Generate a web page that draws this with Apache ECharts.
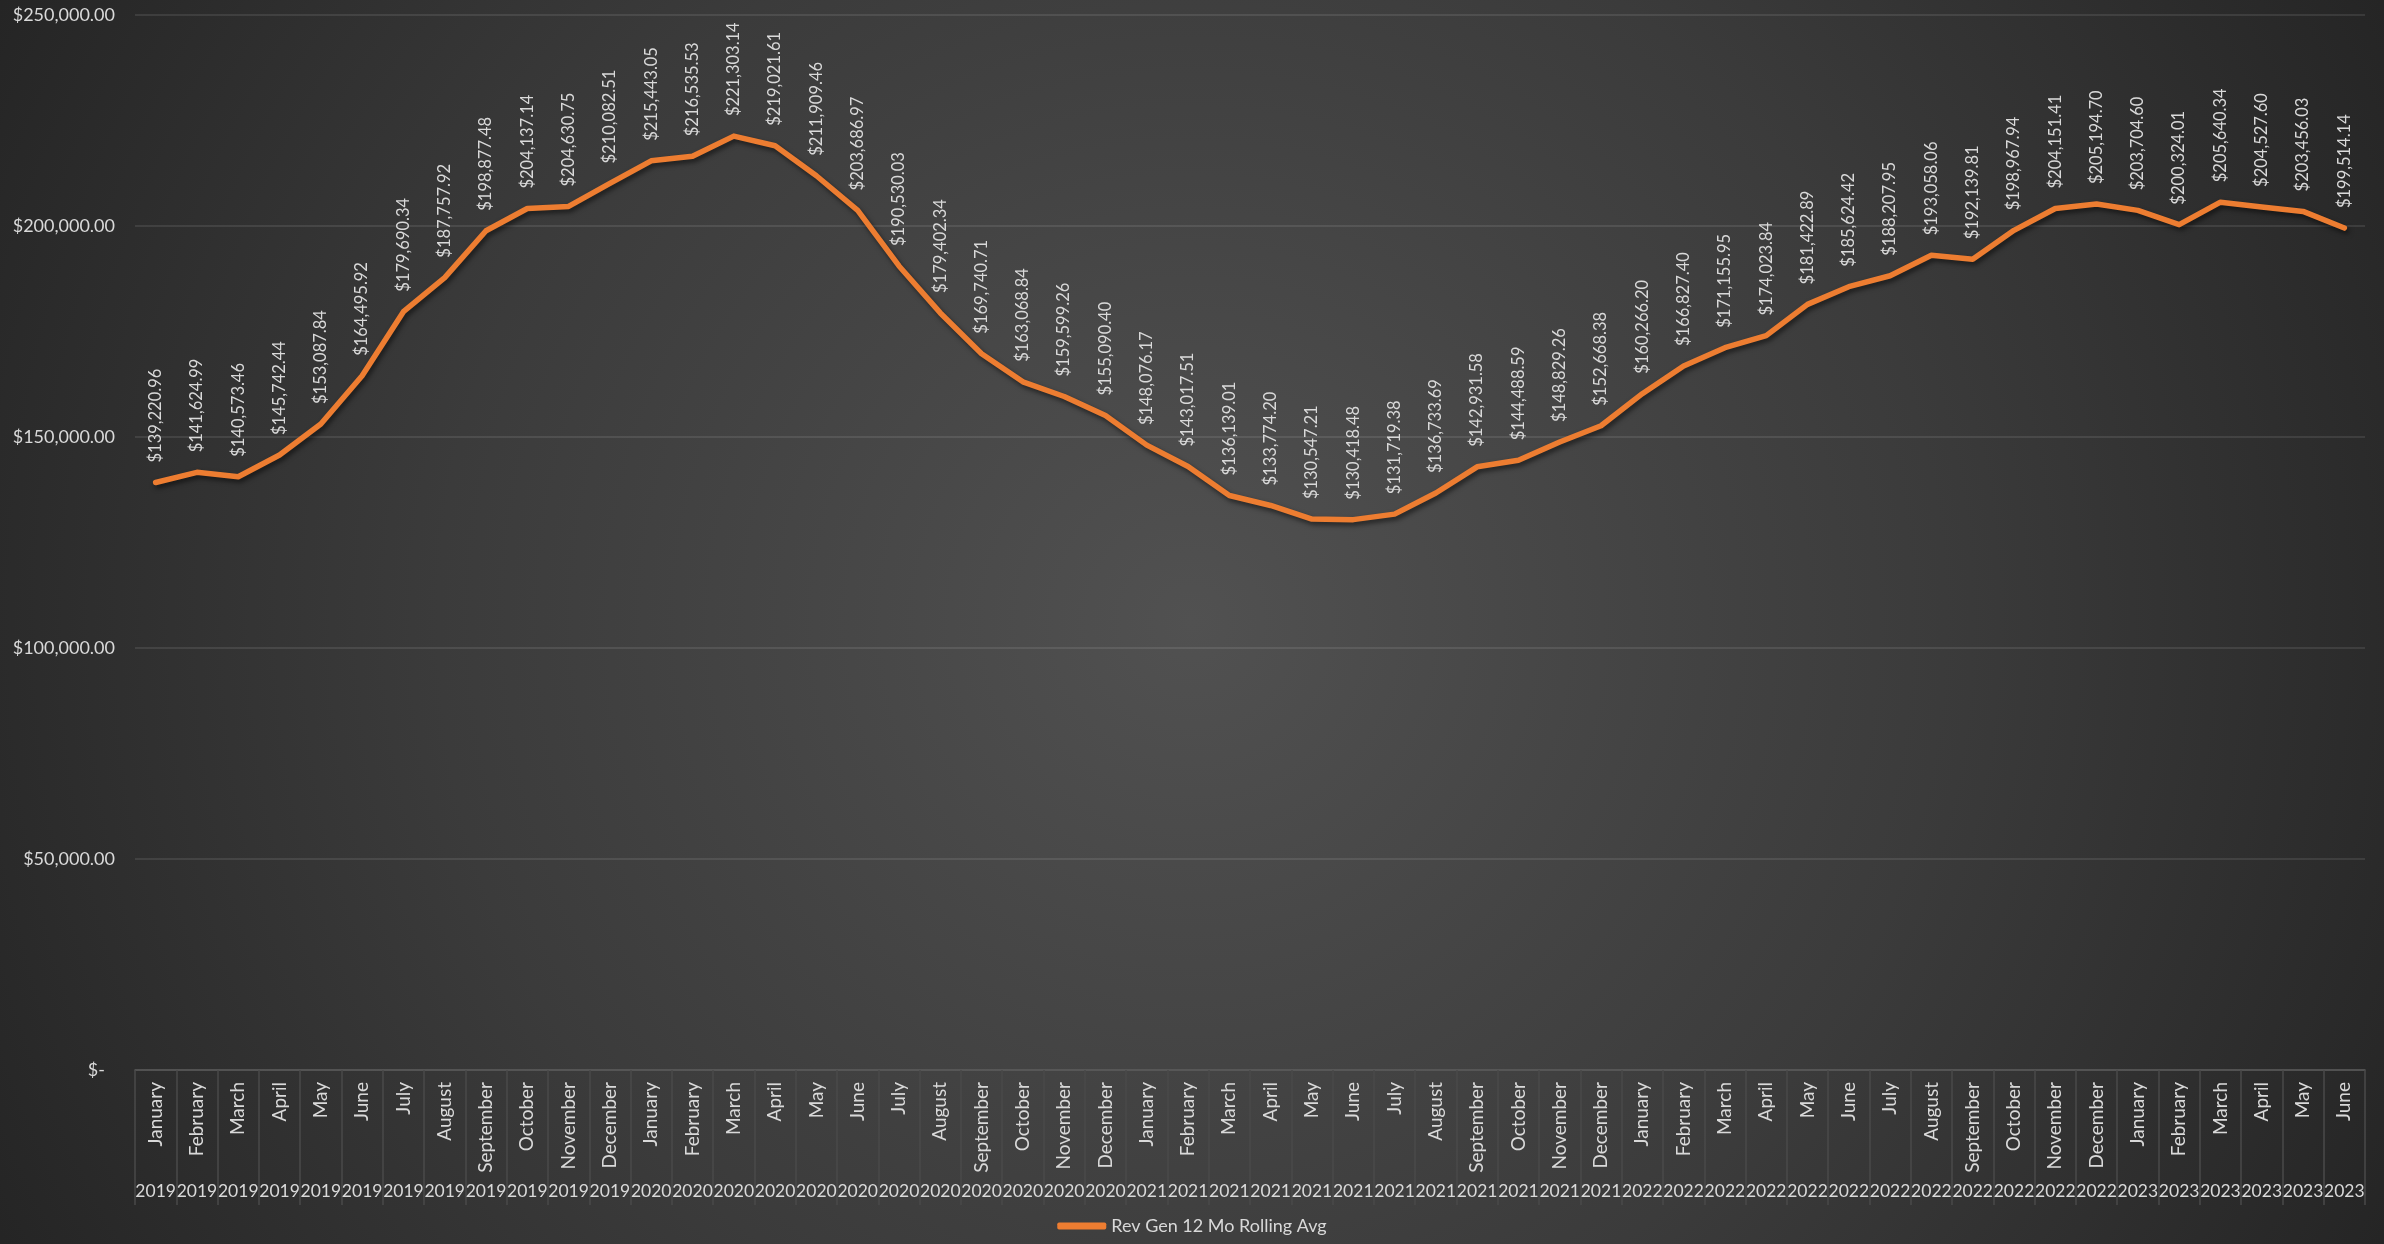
<!DOCTYPE html>
<html>
<head>
<meta charset="utf-8">
<title>Rev Gen 12 Mo Rolling Avg</title>
<script src="https://cdn.jsdelivr.net/npm/echarts@6/dist/echarts.min.js"></script>
<style>
  html, body { margin: 0; padding: 0; background: #2a2a2a; }
  #chart { width: 2384px; height: 1244px; }
</style>
</head>
<body>
<div id="chart"></div>
<script>
// Month / year category labels (Jan 2019 – Jun 2023)
const monthLabels = [
  'January','February','March','April','May','June','July','August','September','October','November','December',
  'January','February','March','April','May','June','July','August','September','October','November','December',
  'January','February','March','April','May','June','July','August','September','October','November','December',
  'January','February','March','April','May','June','July','August','September','October','November','December',
  'January','February','March','April','May','June'
];
const yearLabels = [
  '2019','2019','2019','2019','2019','2019','2019','2019','2019','2019','2019','2019',
  '2020','2020','2020','2020','2020','2020','2020','2020','2020','2020','2020','2020',
  '2021','2021','2021','2021','2021','2021','2021','2021','2021','2021','2021','2021',
  '2022','2022','2022','2022','2022','2022','2022','2022','2022','2022','2022','2022',
  '2023','2023','2023','2023','2023','2023'
];

// Revenue generated, 12-month rolling average
const rollingAvg = [
  139220.96, 141624.99, 140573.46, 145742.44, 153087.84, 164495.92,
  179690.34, 187757.92, 198877.48, 204137.14, 204630.75, 210082.51,
  215443.05, 216535.53, 221303.14, 219021.61, 211909.46, 203686.97,
  190530.03, 179402.34, 169740.71, 163068.84, 159599.26, 155090.40,
  148076.17, 143017.51, 136139.01, 133774.20, 130547.21, 130418.48,
  131719.38, 136733.69, 142931.58, 144488.59, 148829.26, 152668.38,
  160266.20, 166827.40, 171155.95, 174023.84, 181422.89, 185624.42,
  188207.95, 193058.06, 192139.81, 198967.94, 204151.41, 205194.70,
  203704.60, 200324.01, 205640.34, 204527.60, 203456.03, 199514.14
];

const yTicks = { min: 0, max: 250000, interval: 50000 };

const money = new Intl.NumberFormat('en-US', { minimumFractionDigits: 2, maximumFractionDigits: 2 });
const fmt = v => '$' + money.format(v);

const textColor = '#d9d9d9';
const fontFamily = 'Lato, "Open Sans", sans-serif';

const chart = echarts.init(document.getElementById('chart'), null, { renderer: 'canvas' });

chart.setOption({
  animation: false,
  backgroundColor: {
    type: 'radial', x: 0.5, y: 0.5, r: 1.1,
    colorStops: [
      { offset: 0, color: '#515151' },
      { offset: 0.55, color: '#3b3b3b' },
      { offset: 1, color: '#242424' }
    ]
  },
  textStyle: { fontFamily: fontFamily, color: textColor },
  grid: { left: 135, right: 19, top: 15, bottom: 174, containLabel: false },
  legend: {
    bottom: 4,
    left: 'center',
    icon: 'roundRect',
    itemWidth: 49,
    itemHeight: 7,
    itemGap: 10,
    textStyle: { color: textColor, fontSize: 18, fontFamily: fontFamily },
    data: ['Rev Gen 12 Mo Rolling Avg']
  },
  xAxis: [
    {
      type: 'category',
      data: monthLabels,
      position: 'bottom',
      boundaryGap: true,
      axisLine: { show: true, lineStyle: { color: '#585858', width: 1.5 } },
      axisTick: { show: true, interval: 0, length: 135, lineStyle: { color: '#4a4a4a', width: 1.5 } },
      axisLabel: { interval: 0, rotate: 90, margin: 12, fontSize: 19, color: textColor, fontFamily: fontFamily }
    },
    {
      type: 'category',
      data: yearLabels,
      position: 'bottom',
      boundaryGap: true,
      axisLine: { show: false },
      axisTick: { show: false },
      axisLabel: { interval: 0, margin: 112, fontSize: 17.5, color: textColor, fontFamily: fontFamily }
    }
  ],
  yAxis: {
    type: 'value',
    min: yTicks.min,
    max: yTicks.max,
    interval: yTicks.interval,
    axisLine: { show: false },
    axisTick: { show: false },
    splitLine: { lineStyle: { color: 'rgba(255,255,255,0.13)', width: 1.5 } },
    axisLabel: {
      margin: 20,
      fontSize: 18,
      color: textColor,
      fontFamily: fontFamily,
      formatter: v => v === 0 ? '{z|$-}' : fmt(v),
      rich: { z: { fontSize: 18, color: textColor, fontFamily: fontFamily, padding: [0, 10, 0, 0] } }
    }
  },
  series: [
    {
      name: 'Rev Gen 12 Mo Rolling Avg',
      type: 'line',
      xAxisIndex: 0,
      data: rollingAvg,
      symbol: 'circle',
      symbolSize: 2,
      itemStyle: { color: '#ED7D31' },
      lineStyle: {
        color: '#ED7D31',
        width: 5.5,
        cap: 'round',
        join: 'round',
        shadowColor: 'rgba(0,0,0,0.55)',
        shadowBlur: 5,
        shadowOffsetX: 2,
        shadowOffsetY: 3
      },
      label: {
        show: true,
        position: 'top',
        distance: 19,
        rotate: 90,
        align: 'left',
        verticalAlign: 'middle',
        fontSize: 16.5,
        color: textColor,
        fontFamily: fontFamily,
        formatter: p => fmt(p.value)
      },
      labelLayout: { hideOverlap: false },
      emphasis: { disabled: true }
    }
  ]
});
</script>
</body>
</html>
